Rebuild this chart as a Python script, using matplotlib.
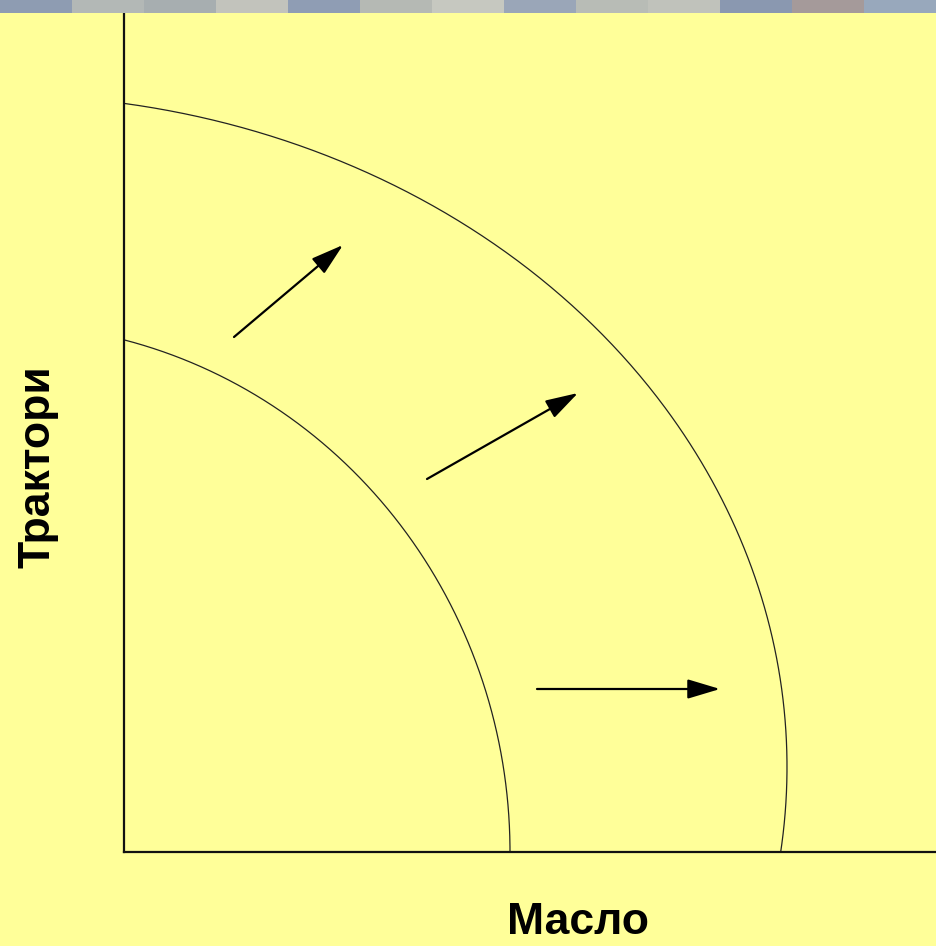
import numpy as np
import matplotlib
matplotlib.use("Agg")
import matplotlib.pyplot as plt
from matplotlib.patches import Rectangle

# production possibility frontiers (ellipse arcs): centre x, centre y, radius x, radius y
old_frontier = (-124, 0, 510, 528)
new_frontier = (-124, 85, 787, 672)

# shift arrows: (tail x, tail y, head x, head y)
shift_arrows = [
    (110, 515, 219, 607),
    (303, 373, 454, 459),
    (413, 163, 596, 163),
]

x_label = "Масло"
y_label = "Трактори"

bg = "#FFFF99"
strip_colors = ["#8e9cb2", "#b3b8b6", "#a7aeb0", "#c2c3bc", "#8f9db4", "#b5b9b4",
                "#c6c8c0", "#9aa6b8", "#b8bcb6", "#c0c2bb", "#8a98b0", "#a59a9a", "#98a8bc"]

fig = plt.figure(figsize=(9.36, 9.46), dpi=100, facecolor=bg)
ax = fig.add_axes([124 / 936, 94 / 946, 812 / 936, 843 / 946])
ax.set_facecolor(bg)
ax.set_xlim(0, 812)
ax.set_ylim(0, 843)

for s in ["top", "right"]:
    ax.spines[s].set_visible(False)
for s in ["left", "bottom"]:
    ax.spines[s].set_linewidth(1.6)
    ax.spines[s].set_color("#111111")
ax.set_xticks([])
ax.set_yticks([])


def draw_frontier(cx, cy, rx, ry):
    # arc from the y axis down to the x axis
    t_top = np.arccos((0 - cx) / rx)
    t_bot = -np.arcsin(min(cy / ry, 1.0))
    t = np.linspace(t_top, t_bot, 400)
    ax.plot(cx + rx * np.cos(t), cy + ry * np.sin(t), color="#222222", lw=0.9)


draw_frontier(*old_frontier)
draw_frontier(*new_frontier)

for x0, y0, x1, y1 in shift_arrows:
    ax.annotate("", xy=(x1, y1), xytext=(x0, y0),
                arrowprops=dict(arrowstyle="-|>,head_length=1.0,head_width=0.3",
                                mutation_scale=20, lw=1.6, color="black",
                                shrinkA=0, shrinkB=0))

fig.text(578 / 936, 1 - 922 / 946, x_label, ha="center", va="center",
         fontsize=32, fontweight="bold", family="Liberation Sans")
fig.text(38 / 936, 1 - 467 / 946, y_label, ha="center", va="center", rotation=90,
         fontsize=32, fontweight="bold", family="Liberation Sans")

# photo strip along the top edge
w = 1 / len(strip_colors)
for i, c in enumerate(strip_colors):
    fig.add_artist(Rectangle((i * w, 1 - 13 / 946), w, 13 / 946, transform=fig.transFigure,
                             facecolor=c, edgecolor="none", zorder=5))

fig.savefig("out.png", dpi=100, facecolor=bg)
